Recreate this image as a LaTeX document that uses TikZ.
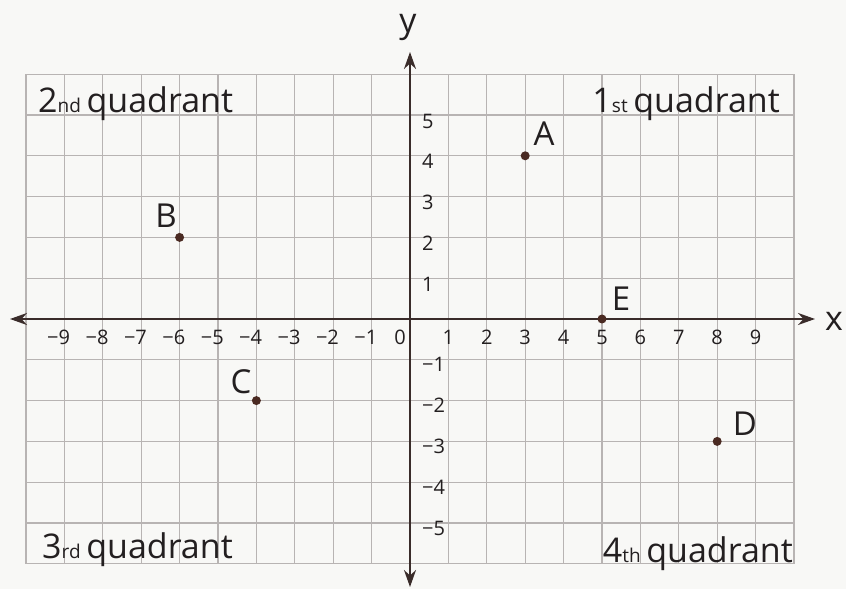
\documentclass[tikz,border=0pt]{standalone}
\usepackage{fontspec}
\setmainfont{Open Sans}
\usetikzlibrary{arrows.meta}
\definecolor{gridcol}{HTML}{B8B4B3}
\definecolor{axiscol}{HTML}{3A2C2A}
\definecolor{dotcol}{HTML}{4A2A22}
\definecolor{inkcol}{HTML}{231F20}
\definecolor{papercol}{HTML}{F8F8F6}
\tikzset{
  gridline/.style={draw=gridcol, line width=1.3pt},
  axisline/.style={draw=axiscol, line width=2.2pt, {Stealth[length=17pt,width=12pt]}-{Stealth[length=17pt,width=12pt]}},
  tickx/.style={inner sep=0pt, text=inkcol, font=\fontsize{20}{20}\selectfont},
  ticky/.style={inner sep=0pt, anchor=west, text=inkcol, font=\fontsize{20}{20}\selectfont},
  quad/.style={inner sep=0pt, text=inkcol, font=\fontsize{34}{34}\selectfont},
  ptlabel/.style={inner sep=0pt, text=inkcol, font=\fontsize{33}{33}\selectfont},
  axlabel/.style={inner sep=0pt, text=inkcol, font=\fontsize{34}{34}\selectfont},
  dot/.style={circle, fill=dotcol, inner sep=0pt, minimum size=9pt}
}
\newcommand{\smallord}[1]{{\fontsize{19}{19}\selectfont #1}}
\begin{document}
\begin{tikzpicture}[x=38.4pt, y=40.8pt]
\useasboundingbox (-410pt,-270pt) rectangle (436pt,319pt);
\fill[papercol] (-410pt,-270pt) rectangle (436pt,319pt);
% grid
\foreach \gx in {-10,...,10} {\draw[gridline] (\gx,-6) -- (\gx,6);}
\foreach \gy in {-6,...,6} {\draw[gridline] (-10,\gy) -- (10,\gy);}
% axes
\coordinate (xl) at (-400pt,0);
\coordinate (xr) at (405pt,0);
\coordinate (yb) at (0,-268pt);
\coordinate (yt) at (0,267pt);
\draw[axisline] (xl) -- (xr);
\draw[axisline] (yb) -- (yt);
\node[axlabel] (xlab) at (424pt,-2pt) {x};
\node[axlabel] (ylab) at (-2pt,292pt) {y};
% x tick labels
\foreach \i in {1,...,9} {
  \node[tickx] (xp\i) at (\i,-18pt) {\i};
  \node[tickx] (xn\i) at (-\i,-18pt) {\llap{−}\i};
}
\node[tickx] (x0) at (-10pt,-18pt) {0};
% y tick labels
\foreach \i in {1,...,5} {
  \node[ticky] (yp\i) at ([yshift=-6pt]12pt,\i) {\i};
  \node[ticky] (yn\i) at ([yshift=-5pt]12pt,-\i) {−\i};
}
% quadrant labels
\node[quad, anchor=base west] (q2) at (-372pt,206pt) {2\smallord{nd}\,quadrant};
\node[quad, anchor=base east] (q1) at (370pt,206pt) {1\smallord{st}\,quadrant};
\node[quad, anchor=base west] (q3) at (-368pt,-239pt) {3\smallord{rd}\,quadrant};
\node[quad, anchor=base east] (q4) at (383pt,-243pt) {4\smallord{th}\,quadrant};
% points
\node[dot] (A) at (3,4) {};
\node[dot] (B) at (-6,2) {};
\node[dot] (C) at (-4,-2) {};
\node[dot] (D) at (8,-3) {};
\node[dot] (E) at (5,0) {};
\node[ptlabel] (Alab) at (134pt,185pt) {A};
\node[ptlabel] (Blab) at (-244pt,103pt) {B};
\node[ptlabel] (Clab) at (-169pt,-63pt) {C};
\node[ptlabel] (Dlab) at (335pt,-105pt) {D};
\node[ptlabel] (Elab) at (211pt,20pt) {E};
\end{tikzpicture}
\end{document}
